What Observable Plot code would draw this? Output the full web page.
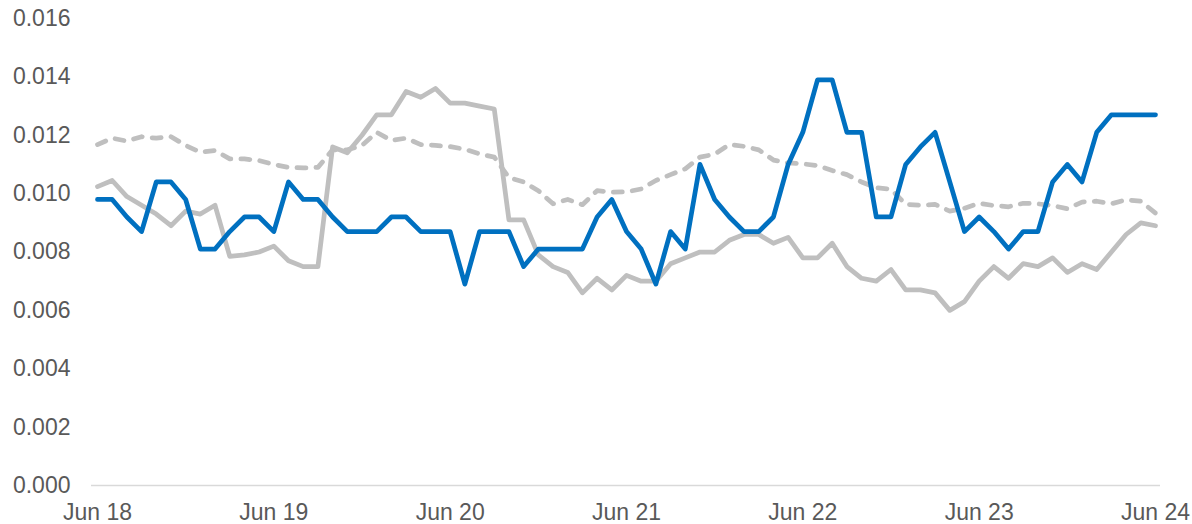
<!DOCTYPE html>
<html>
<head>
<meta charset="utf-8">
<script src="https://cdn.jsdelivr.net/npm/d3@7"></script>
<script src="https://cdn.jsdelivr.net/npm/@observablehq/plot@0.6"></script>
<style>
  html, body { margin: 0; padding: 0; background: #fff; }
  #chart { width: 1192px; height: 524px; overflow: hidden; }
</style>
</head>
<body>
<div id="chart"></div>
<script>
// Monthly observations, Jun 2018 .. Jun 2024 (73 months), equally spaced like a category axis
const months = d3.utcMonth.range(new Date(Date.UTC(2018, 5, 1)), new Date(Date.UTC(2024, 6, 1)));

const blueSeries = [
  0.0098, 0.0098, 0.0092, 0.0087, 0.0104, 0.0104, 0.0098, 0.0081, 0.0081, 0.0087, 0.0092, 0.0092,
  0.0087, 0.0104, 0.0098, 0.0098, 0.0092, 0.0087, 0.0087, 0.0087, 0.0092, 0.0092, 0.0087, 0.0087,
  0.0087, 0.0069, 0.0087, 0.0087, 0.0087, 0.0075, 0.0081, 0.0081, 0.0081, 0.0081, 0.0092, 0.0098,
  0.0087, 0.0081, 0.0069, 0.0087, 0.0081, 0.0110, 0.0098, 0.0092, 0.0087, 0.0087, 0.0092, 0.0110,
  0.0121, 0.0139, 0.0139, 0.0121, 0.0121, 0.0092, 0.0092, 0.0110, 0.0116, 0.0121, 0.0104, 0.0087,
  0.0092, 0.0087, 0.0081, 0.0087, 0.0087, 0.0104, 0.0110, 0.0104, 0.0121, 0.0127, 0.0127, 0.0127,
  0.0127
];

const graySeries = [
  0.01024, 0.01045, 0.0099, 0.0096, 0.0093, 0.0089, 0.0094, 0.0093, 0.0096, 0.00785, 0.0079, 0.0080,
  0.0082, 0.0077, 0.0075, 0.0075, 0.0116, 0.0114, 0.0120, 0.0127, 0.0127, 0.0135, 0.0133, 0.0136,
  0.0131, 0.0131, 0.0130, 0.0129, 0.0091, 0.0091, 0.0079, 0.0075, 0.0073, 0.0066, 0.0071, 0.0067,
  0.0072, 0.0070, 0.0070, 0.0076, 0.0078, 0.0080, 0.0080, 0.0084, 0.0086, 0.0086, 0.0083, 0.0085,
  0.0078, 0.0078, 0.0083, 0.0075, 0.0071, 0.0070, 0.0074, 0.0067, 0.0067, 0.0066, 0.0060, 0.0063,
  0.0070, 0.0075, 0.0071, 0.0076, 0.0075, 0.0078, 0.0073, 0.0076, 0.0074, 0.0080, 0.0086, 0.0090,
  0.0089
];

const dashedSeries = [
  0.01168, 0.01190, 0.01180, 0.01195, 0.01190, 0.01195, 0.01165, 0.01142, 0.01148, 0.01119, 0.01119, 0.01113,
  0.01100, 0.01090, 0.01088, 0.01090, 0.01150, 0.01150, 0.01165, 0.01210, 0.01182, 0.01190, 0.01168, 0.01165,
  0.01161, 0.01152, 0.01136, 0.01125, 0.01055, 0.01040, 0.01010, 0.00965, 0.00980, 0.00962, 0.01010, 0.01005,
  0.01006, 0.01016, 0.01045, 0.01065, 0.01085, 0.01125, 0.01135, 0.01168, 0.01162, 0.01150, 0.01115, 0.01105,
  0.01102, 0.01096, 0.01079, 0.01065, 0.01040, 0.01020, 0.01015, 0.00963, 0.00960, 0.00963, 0.00940, 0.00950,
  0.00967, 0.00959, 0.00955, 0.00967, 0.00965, 0.00959, 0.00948, 0.00971, 0.00974, 0.00965, 0.00979, 0.00974,
  0.00933
];

const yTicks = [0, 0.002, 0.004, 0.006, 0.008, 0.010, 0.012, 0.014, 0.016];
const xTickLabels = ["Jun 18", "Jun 19", "Jun 20", "Jun 21", "Jun 22", "Jun 23", "Jun 24"];
const xTickIndex = xTickLabels.map((_, i) => i * 12);

const rows = (vals) => months.map((d, i) => ({idx: i, date: d, value: vals[i]}));
const blueData = rows(blueSeries);
const grayData = rows(graySeries);
const dashedData = rows(dashedSeries);

const chart = Plot.plot({
  width: 1192,
  height: 524,
  marginLeft: 91,
  marginRight: 32,
  marginTop: 18,
  marginBottom: 39,
  style: {fontFamily: "Liberation Sans, Arial, sans-serif", fontSize: "23px", color: "#595959", background: "#fff"},
  x: {
    type: "linear",
    domain: [0, months.length - 1],
    insetLeft: 6,
    insetRight: 5,
    ticks: xTickIndex,
    tickFormat: (d) => xTickLabels[xTickIndex.indexOf(d)],
    tickSize: 0,
    tickPadding: 18,
    label: null
  },
  y: {
    domain: [0, 0.016],
    ticks: yTicks,
    tickFormat: d3.format(".3f"),
    tickSize: 0,
    tickPadding: 21,
    label: null
  },
  marks: [
    Plot.ruleY([0], {stroke: "#D9D9D9", strokeWidth: 1.5}),
    Plot.line(dashedData, {x: "idx", y: "value", stroke: "#BFBFBF", strokeWidth: 4.75, strokeDasharray: "9,10", strokeLinecap: "round", strokeLinejoin: "round"}),
    Plot.line(grayData, {x: "idx", y: "value", stroke: "#BFBFBF", strokeWidth: 4.75, strokeLinejoin: "round", strokeLinecap: "round"}),
    Plot.line(blueData, {x: "idx", y: "value", stroke: "#0070C0", strokeWidth: 4.75, strokeLinejoin: "round", strokeLinecap: "round"})
  ]
});

document.getElementById("chart").appendChild(chart);
</script>
</body>
</html>
